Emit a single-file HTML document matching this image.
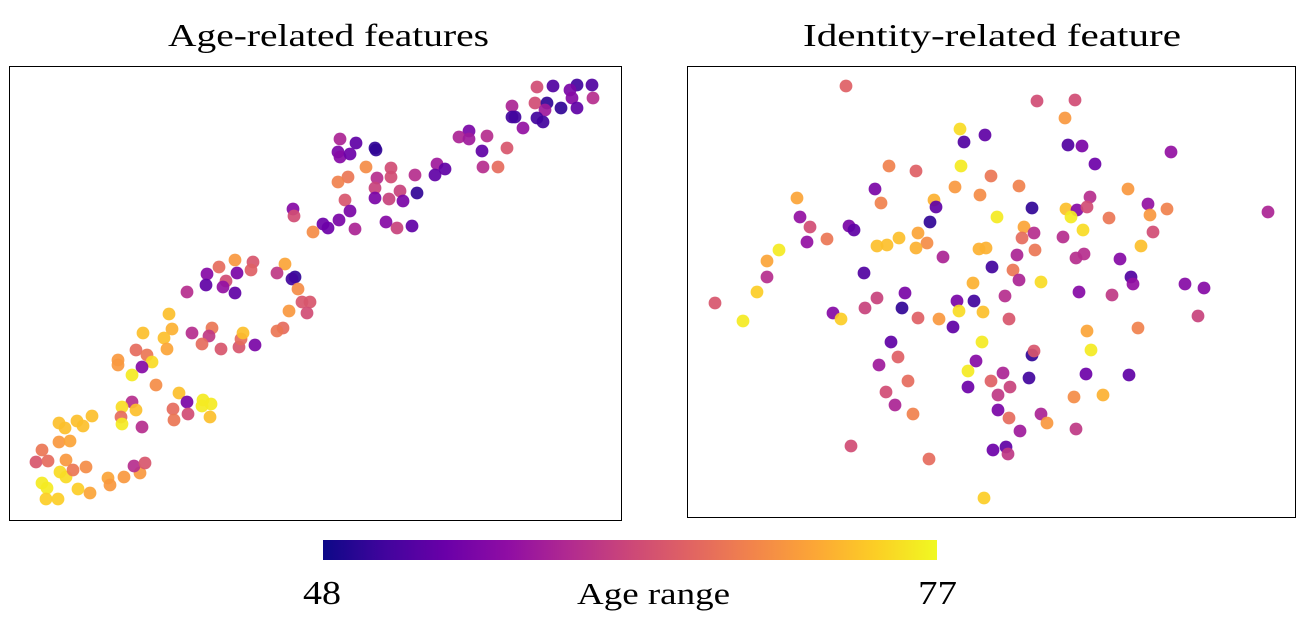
<!DOCTYPE html>
<html><head><meta charset="utf-8">
<style>
html,body{margin:0;padding:0;background:#fff;}
svg{display:block;}
text{font-family:"Liberation Serif","DejaVu Serif",serif;fill:#000;}
</style></head>
<body>
<svg id="chart" width="1307" height="619" viewBox="0 0 1307 619">
  <defs>
    <linearGradient id="plasma" x1="0" x2="1" y1="0" y2="0">
      <stop offset="0" stop-color="#0d0887"/><stop offset="0.1" stop-color="#41049d"/>
      <stop offset="0.2" stop-color="#6a00a8"/><stop offset="0.3" stop-color="#8f0da4"/>
      <stop offset="0.4" stop-color="#b12a90"/><stop offset="0.5" stop-color="#cc4778"/>
      <stop offset="0.6" stop-color="#e16462"/><stop offset="0.7" stop-color="#f2844b"/>
      <stop offset="0.8" stop-color="#fca636"/><stop offset="0.9" stop-color="#fcce25"/>
      <stop offset="1" stop-color="#f0f921"/>
    </linearGradient>
  </defs>
  <text x="168" y="46" font-size="32" textLength="321" lengthAdjust="spacingAndGlyphs">Age-related features</text>
  <text x="803" y="46" font-size="32" textLength="378" lengthAdjust="spacingAndGlyphs">Identity-related feature</text>
  <g id="leftDots"></g>
  <g id="rightDots"></g>
  <rect x="9.5" y="66.5" width="612" height="454" fill="none" stroke="#000" stroke-width="1"/>
  <rect x="687.5" y="66.5" width="608" height="451" fill="none" stroke="#000" stroke-width="1"/>
  <rect x="323" y="540" width="614" height="20" fill="url(#plasma)"/>
  <text x="303" y="604" font-size="34" textLength="38" lengthAdjust="spacingAndGlyphs">48</text>
  <text x="577" y="604" font-size="31" textLength="153" lengthAdjust="spacingAndGlyphs">Age range</text>
  <text x="918" y="604" font-size="34" textLength="39" lengthAdjust="spacingAndGlyphs">77</text>
</svg>
<script>
// Left panel (age-related embedding)
const leftX = [235,219,253,251,285,207,237,226,206,223,235,187,277,295,292,298,302,310,307,289,283,277,169,143,172,164,167,192,212,209,202,221,239,241,243,255,136,147,118,118,152,142,132,156,179,187,203,211,202,210,173,188,174,132,122,136,121,122,142,92,77,83,59,65,59,70,42,36,48,66,60,66,73,86,42,47,46,58,78,90,108,110,124,140,134,145,
537,553,577,592,570,572,593,535,547,545,561,577,512,512,515,537,543,523,469,459,469,487,482,507,483,498,340,356,375,376,338,340,350,366,348,338,391,377,391,375,415,437,445,435,417,400,345,375,389,403,350,339,323,328,355,386,397,412,293,294,313];
const leftY = [260,267,262,270,264,274,273,281,285,287,293,292,273,277,279,289,302,302,313,311,328,331,314,333,329,338,349,333,328,336,344,349,347,339,333,345,350,355,360,365,362,367,375,385,393,402,400,404,406,417,409,414,420,402,407,410,417,424,427,416,421,426,423,428,442,441,450,462,461,460,472,477,470,467,483,488,499,499,489,493,478,485,477,473,466,463,
87,86,85,85,90,98,98,103,103,110,108,108,106,117,117,118,122,128,131,137,139,136,151,148,167,167,139,143,148,150,152,157,154,167,177,182,168,178,177,188,175,164,169,175,193,191,200,198,199,201,211,220,224,228,229,222,228,226,209,216,232];
const leftAge = [70,66,64,65,71,56,55,63,53,57,53,60,61,50,51,69,64,64,63,70,66,67,73,73,72,73,71,60,67,61,66,64,64,66,73,55,66,67,70,70,75,56,76,69,73,55,76,76,76,73,66,63,67,60,75,73,66,76,60,73,73,73,73,73,70,71,67,64,66,70,75,75,67,69,76,76,74,74,74,71,71,70,70,70,60,64,
63,52,51,52,55,56,60,63,50,58,50,53,59,51,51,51,51,57,55,59,58,60,53,64,60,66,59,53,50,50,55,56,54,69,67,68,63,60,63,62,60,58,53,53,50,62,64,55,62,55,55,55,54,54,59,56,62,53,56,63,69];
// Right panel (identity-related embedding)
const rightX = [846,960,985,964,961,889,916,991,875,955,980,797,881,934,936,997,800,810,849,854,930,827,807,918,927,899,877,887,916,943,979,986,779,767,767,757,715,743,864,992,973,905,877,865,833,841,902,957,974,959,983,918,939,953,891,982,898,879,976,968,908,968,991,1003,886,998,895,913,998,851,929,993,984,
1037,1075,1065,1068,1082,1171,1095,1019,1128,1090,1148,1032,1066,1077,1087,1071,1167,1150,1268,1109,1024,1034,1022,1083,1063,1153,1141,1017,1035,1076,1084,1120,1013,1019,1041,1131,1133,1185,1204,1079,1112,1005,1198,1009,1138,1087,1091,1032,1034,1010,1029,1086,1129,1074,1103,1009,1041,1047,1076,1020,1006,1008];
const rightY = [86,129,135,142,166,166,171,176,189,187,195,198,203,200,207,217,217,227,226,230,222,239,242,233,243,238,246,245,248,257,249,248,250,261,277,292,303,321,273,267,283,293,298,308,313,319,308,301,301,311,312,318,319,327,342,342,357,365,361,371,381,387,381,373,392,395,405,414,410,446,459,450,498,
101,100,118,145,146,152,164,186,189,197,204,208,209,210,207,217,209,215,212,218,227,233,238,230,237,232,246,255,250,258,254,259,270,280,282,277,284,284,288,292,295,296,316,319,328,331,350,355,351,387,378,374,375,397,395,418,414,423,429,431,447,454];
const rightAge = [65,75,53,52,76,68,65,67,55,70,69,71,68,72,53,76,57,63,55,53,50,67,57,71,69,73,73,73,72,59,72,72,76,71,60,74,64,76,52,51,72,55,62,62,56,74,50,55,51,75,73,65,70,53,53,76,65,58,56,76,66,54,65,59,63,61,59,68,55,63,66,54,74,
63,63,70,52,55,57,54,68,70,60,57,50,73,56,63,76,68,70,59,67,71,60,66,75,60,63,73,59,67,60,60,56,67,59,75,52,57,56,56,56,61,60,62,64,68,71,76,50,64,62,51,54,53,69,72,66,59,70,61,58,53,61];

const AGE_MIN = 48, AGE_MAX = 77;
const plasma = ["#0d0887","#41049d","#6a00a8","#8f0da4","#b12a90","#cc4778","#e16462","#f2844b","#fca636","#fcce25","#f0f921"];
function hex(c){return [parseInt(c.slice(1,3),16),parseInt(c.slice(3,5),16),parseInt(c.slice(5,7),16)];}
function color(age){
  let t = Math.max(0, Math.min(1, (age-AGE_MIN)/(AGE_MAX-AGE_MIN)));
  const s = t*(plasma.length-1), i = Math.min(plasma.length-2, Math.floor(s)), f = s-i;
  const a = hex(plasma[i]), b = hex(plasma[i+1]);
  return "rgb("+a.map((v,k)=>Math.round(v+(b[k]-v)*f)).join(",")+")";
}
function makeScale(d0,d1,r0,r1){return v => r0 + (v-d0)/(d1-d0)*(r1-r0);}
const lx = makeScale(9,622,9,622), ly = makeScale(66,521,66,521);
const rx = makeScale(687,1296,687,1296), ry = makeScale(66,518,66,518);
const NS = "http://www.w3.org/2000/svg";
function draw(gid, xs, ys, ages, sx, sy, prefix){
  const g = document.getElementById(gid);
  for(let i=0;i<xs.length;i++){
    const c = document.createElementNS(NS,"circle");
    c.setAttribute("cx", sx(xs[i]));
    c.setAttribute("cy", sy(ys[i]));
    c.setAttribute("r", 6.4);
    c.setAttribute("fill", color(ages[i]));
    c.setAttribute("fill-opacity", 0.92);
    
    
    g.appendChild(c);
  }
}
draw("leftDots", leftX, leftY, leftAge, lx, ly, "age-feature");
draw("rightDots", rightX, rightY, rightAge, rx, ry, "identity-feature");
</script>
</body></html>
